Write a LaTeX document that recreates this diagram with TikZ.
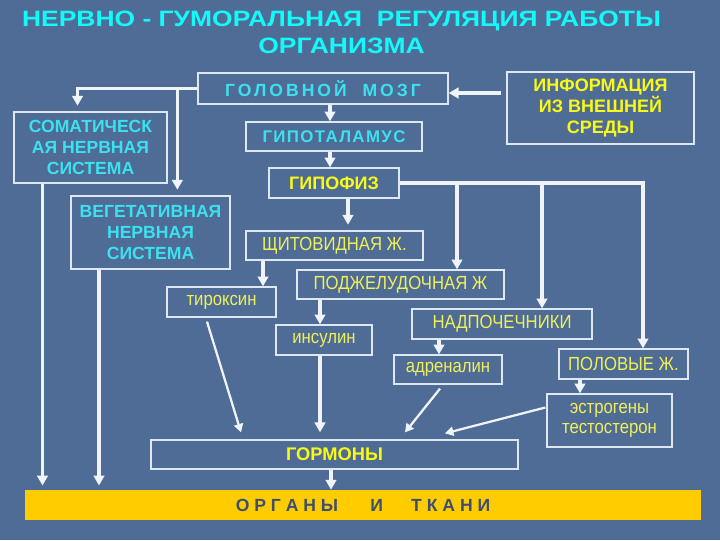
\documentclass[tikz,border=0pt]{standalone}
\usepackage{fontspec}
\setmainfont{Liberation Sans}
\newfontfamily\ttlfont[FakeStretch=1.19]{Liberation Sans}
\newfontfamily\narfont[FakeStretch=0.88]{Liberation Sans}
\newfontfamily\spcfont[LetterSpace=17]{Liberation Sans}
\newfontfamily\midfont[LetterSpace=8]{Liberation Sans}
\usetikzlibrary{positioning,arrows.meta,calc}
\definecolor{bgblue}{RGB}{78,108,150}
\definecolor{boxline}{RGB}{222,232,244}
\definecolor{arrw}{RGB}{240,244,250}
\definecolor{ttlcyan}{RGB}{20,250,250}
\definecolor{cyantxt}{RGB}{60,225,240}
\definecolor{ybold}{RGB}{250,250,20}
\definecolor{ylight}{RGB}{240,240,90}
\definecolor{barorange}{RGB}{255,204,0}
\definecolor{bartxt}{RGB}{62,78,112}

\begin{document}
\begin{tikzpicture}[x=0.025cm, y=-0.025cm,
      box/.style={draw=boxline, line width=0.9pt, inner sep=0pt, align=center},
      cb/.style={text=cyantxt, font=\bfseries\fontsize{12.5}{15}\selectfont},
      yb/.style={text=ybold, font=\bfseries\fontsize{12.8}{14.9}\selectfont},
      yr/.style={text=ylight, font=\narfont\fontsize{13.5}{14.3}\selectfont},
      arr/.style={draw=arrw, line width=2.2pt, -{Triangle[length=7pt,width=7.5pt]}},
      darr/.style={draw=arrw, line width=1.6pt, -{Triangle[length=6pt,width=6.5pt]}}]
      \fill[bgblue] (0,0) rectangle (720,540);
      \useasboundingbox (0,0) rectangle (720,540);
      % title
      \node[text=ttlcyan, font=\ttlfont\bfseries\fontsize{15.8}{19.1}\selectfont, align=center] (title) at (341.5,32.5)
        {НЕРВНО - ГУМОРАЛЬНАЯ\ \ РЕГУЛЯЦИЯ РАБОТЫ\\ОРГАНИЗМА};
      % nervous part
      \node[box, text=cyantxt, font=\spcfont\bfseries\fontsize{12.5}{15}\selectfont,
            minimum width=6.25cm, minimum height=0.775cm] (brain) at (323,88.5) {ГОЛОВНОЙ\ \ МОЗГ};
      \node[box, yb, minimum width=4.675cm, minimum height=1.8cm] (info) at (600.5,108)
        {ИНФОРМАЦИЯ\\ИЗ ВНЕШНЕЙ\\СРЕДЫ};
      \node[box, cb, minimum width=3.825cm, minimum height=1.775cm] (soma) at (90.5,147.5)
        {СОМАТИЧЕСК\\АЯ НЕРВНАЯ\\СИСТЕМА};
      \node[box, text=cyantxt, font=\midfont\bfseries\fontsize{12}{15}\selectfont,
            minimum width=4.4cm, minimum height=0.725cm] (hypo) at (334,136.5) {ГИПОТАЛАМУС};
      \node[box, yb, minimum width=3.25cm, minimum height=0.75cm] (pit) at (334,183) {ГИПОФИЗ};
      \node[box, cb, minimum width=3.975cm, minimum height=1.825cm] (veg) at (150.5,232.5)
        {ВЕГЕТАТИВНАЯ\\НЕРВНАЯ\\СИСТЕМА};
      % glands and hormones
      \node[box, yr, minimum width=4.425cm, minimum height=0.725cm] (thyr) at (334.5,245.5) {ЩИТОВИДНАЯ Ж.};
      \node[box, yr, minimum width=5.175cm, minimum height=0.725cm] (panc) at (400.5,284.5) {ПОДЖЕЛУДОЧНАЯ Ж};
      \node[box, yr, minimum width=2.725cm, minimum height=0.75cm] (thyrox) at (221.5,302) {тироксин};
      \node[box, yr, minimum width=2.4cm, minimum height=0.75cm] (insul) at (324,340) {инсулин};
      \node[box, yr, minimum width=4.5cm, minimum height=0.75cm] (adren) at (502,324) {НАДПОЧЕЧНИКИ};
      \node[box, yr, minimum width=2.7cm, minimum height=0.725cm] (adrenalin) at (448,369.5) {адреналин};
      \node[box, yr, minimum width=3.225cm, minimum height=0.75cm] (sex) at (623.5,364) {ПОЛОВЫЕ Ж.};
      \node[box, yr, minimum width=3.125cm, minimum height=1.325cm] (estr) at (609.5,420.5)
        {эстрогены\\тестостерон};
      \node[box, yb, font=\bfseries\fontsize{13}{15}\selectfont, minimum width=9.175cm, minimum height=0.725cm]
        (horm) at (334.5,454.5) {ГОРМОНЫ};
      \node[fill=barorange, inner sep=0pt, minimum width=16.9cm, minimum height=0.75cm, text=bartxt,
            font=\bfseries\fontsize{12.5}{15}\selectfont] (organs) at (363,505)
        {О Р Г А Н Ы\hspace{23pt}И\hspace{20pt}Т К А Н И};
      % connectors
      \draw[arr] ([shift={(-5,-15)}]info.west) coordinate (ia) -- (brain.east |- ia);
      \draw[arr, shorten >=4pt] (brain.west) -| ([shift={(-13,0)}]soma.north);
      \draw[arr, shorten >=4pt] ([shift={(-20,0)}]brain.west) coordinate (vg) -- (vg |- veg.north);
      \draw[arr, shorten >=3pt] ([shift={(-48,0)}]soma.south) coordinate (sd) -- (sd |- organs.north);
      \draw[arr, shorten >=3pt] ([shift={(-51.5,0)}]veg.south) coordinate (vd) -- (vd |- organs.north);
      \coordinate (hn) at ([shift={(-4,0)}]hypo.north);
      \draw[arr] (hn |- brain.south) -- (hn);
      \coordinate (pn) at ([shift={(-4,0)}]pit.north);
      \draw[arr] (pn |- hypo.south) -- (pn);
      \coordinate (tn) at ([shift={(13.5,0)}]thyr.north);
      \draw[arr, shorten >=4pt] (tn |- pit.south) -- (tn);
      \draw[arr] (pit.east) -| ([shift={(19.5,0)}]sex.north);
      \coordinate (pcn) at ([shift={(56.5,0)}]panc.north);
      \draw[arr] (pcn |- pit.east) -- (pcn);
      \coordinate (adn) at ([shift={(40,0)}]adren.north);
      \draw[arr] (adn |- pit.east) -- (adn);
      \coordinate (txn) at ([shift={(41.5,0)}]thyrox.north);
      \draw[arr] (txn |- thyr.south) -- (txn);
      \coordinate (inn) at ([shift={(-4,0)}]insul.north);
      \draw[arr] (inn |- panc.south) -- (inn);
      \coordinate (aln) at ([shift={(-9,0)}]adrenalin.north);
      \draw[arr] (aln |- adren.south) -- (aln);
      \coordinate (esn) at ([shift={(-29.5,0)}]estr.north);
      \draw[arr] (esn |- sex.south) -- (esn);
      \coordinate (is) at ([shift={(-4,0)}]insul.south);
      \draw[arr, shorten >=5pt] (is) -- (is |- horm.north);
      \draw[darr] ([shift={(-14.5,4)}]thyrox.south) -- ([shift={(-93.5,-7)}]horm.north);
      \draw[darr] ([shift={(-8,4)}]adrenalin.south) -- ([shift={(70.5,-7)}]horm.north);
      \draw[darr] ([shift={(-1,-13)}]estr.west) -- ([shift={(110.5,-6)}]horm.north);
      \coordinate (hs) at ([shift={(-3.5,0)}]horm.south);
      \draw[arr] (hs) -- (hs |- organs.north);
    \end{tikzpicture}
\end{document}
